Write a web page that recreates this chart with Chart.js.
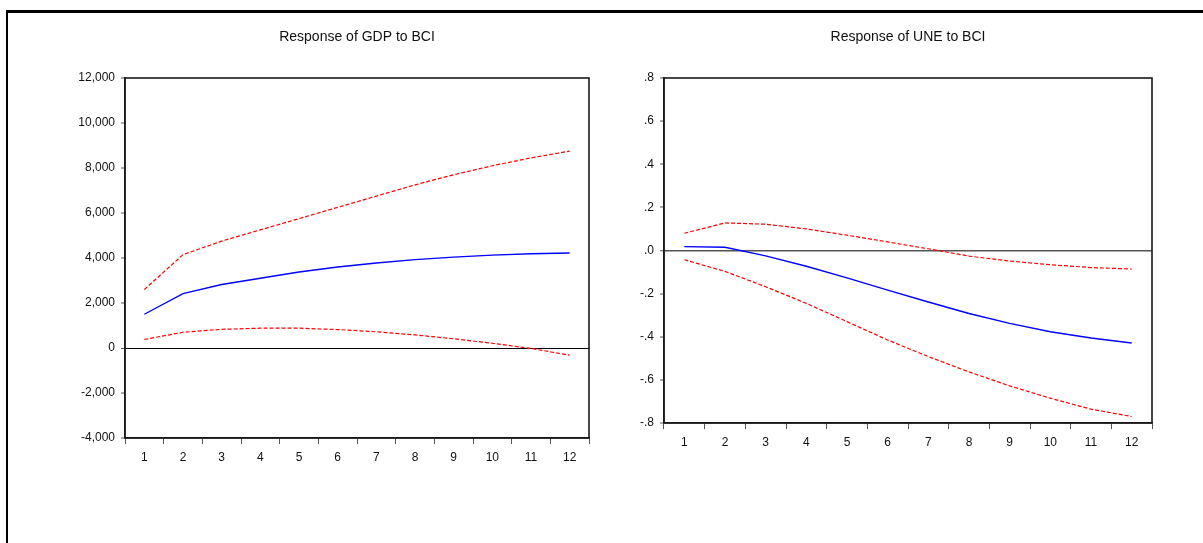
<!DOCTYPE html>
<html>
<head>
<meta charset="utf-8">
<script src="https://cdn.jsdelivr.net/npm/chart.js@4.4.1/dist/chart.umd.min.js"></script>
<style>
  html, body { margin: 0; padding: 0; background: #fff; }
  body { width: 1203px; height: 543px; position: relative; overflow: hidden; }
  #frame { position: absolute; left: 6px; top: 10px; right: 0; bottom: 0;
           border-left: 2px solid #000; border-top: 3px solid #000; }
  .box { position: absolute; top: 0; height: 543px; }
  #boxL { left: 0; width: 600px; }
  #boxR { left: 600px; width: 603px; }
</style>
</head>
<body>
<div id="frame"></div>
<div class="box" id="boxL"><canvas id="cL"></canvas></div>
<div class="box" id="boxR"><canvas id="cR"></canvas></div>
<script>
// ---- data ----
const periods = ['1','2','3','4','5','6','7','8','9','10','11','12'];

const gdpResponse = [1500, 2420, 2820, 3100, 3380, 3600, 3780, 3930, 4040, 4130, 4190, 4220];
const gdpUpper    = [2600, 4150, 4750, 5250, 5750, 6250, 6750, 7250, 7700, 8100, 8450, 8750];
const gdpLower    = [380, 700, 830, 880, 880, 820, 720, 580, 410, 210, -20, -320];

const uneResponse = [0.018, 0.015, -0.025, -0.073, -0.127, -0.184, -0.239, -0.292, -0.338, -0.377, -0.406, -0.429];
const uneUpper    = [0.080, 0.128, 0.122, 0.100, 0.071, 0.040, 0.008, -0.026, -0.049, -0.066, -0.079, -0.086];
const uneLower    = [-0.043, -0.097, -0.168, -0.245, -0.330, -0.415, -0.492, -0.563, -0.628, -0.685, -0.736, -0.770];

const gdpTicks = [-4000, -2000, 0, 2000, 4000, 6000, 8000, 10000, 12000];
const gdpTickLabels = ['-4,000', '-2,000', '0', '2,000', '4,000', '6,000', '8,000', '10,000', '12,000'];
const uneTicks = [-0.8, -0.6, -0.4, -0.2, 0, 0.2, 0.4, 0.6, 0.8];
const uneTickLabels = ['-.8', '-.6', '-.4', '-.2', '.0', '.2', '.4', '.6', '.8'];

const titleGDP = 'Response of GDP to BCI';
const titleUNE = 'Response of UNE to BCI';

// ---- styling helpers ----
const FONT = "'Liberation Sans', Arial, sans-serif";
const TXT = '#111';

const frameBox = {
  id: 'frameBox',
  afterDraw(chart) {
    const a = chart.chartArea, ctx = chart.ctx;
    ctx.save();
    ctx.strokeStyle = '#1a1a1a';
    ctx.lineWidth = 1.6;
    ctx.strokeRect(a.left, a.top, a.right - a.left, a.bottom - a.top);
    ctx.restore();
  }
};

function makeChart(canvasId, title, resp, up, lo, ticks, tickLabels, opts) {
  const ctx = document.getElementById(canvasId);
  return new Chart(ctx, {
    type: 'line',
    data: {
      labels: periods,
      datasets: [
        { data: up, borderColor: '#ff0000', borderWidth: 1.2, borderDash: [4, 2], pointRadius: 0, tension: 0, fill: false },
        { data: lo, borderColor: '#ff0000', borderWidth: 1.2, borderDash: [4, 2], pointRadius: 0, tension: 0, fill: false },
        { data: resp, borderColor: '#0000ff', borderWidth: 1.4, pointRadius: 0, tension: 0, fill: false }
      ]
    },
    options: {
      responsive: true,
      maintainAspectRatio: false,
      animation: false,
      events: [],
      layout: { padding: { left: 0, right: opts.padRight, top: 0, bottom: 0 } },
      plugins: {
        legend: { display: false },
        tooltip: { enabled: false },
        title: {
          display: true, text: title, fullSize: false, color: TXT,
          font: { family: FONT, size: 14, weight: 'normal', lineHeight: 1.2 },
          padding: { top: 28.6, bottom: 32.6 }
        }
      },
      scales: {
        x: {
          type: 'category',
          offset: true,
          grid: { offset: true, drawOnChartArea: false, tickLength: 6, tickColor: '#555', tickWidth: 1 },
          border: { display: true, color: '#1a1a1a', width: 1.6 },
          ticks: { color: TXT, font: { family: FONT, size: 12 }, padding: 6, maxRotation: 0, autoSkip: false },
          afterFit(s) { s.height = opts.xHeight; }
        },
        y: {
          min: ticks[0], max: ticks[ticks.length - 1],
          afterBuildTicks(s) { s.ticks = ticks.map(v => ({ value: v })); },
          grid: {
            drawOnChartArea: true,
            color: c => (c.tick && c.tick.value === 0) ? opts.zeroColor : 'rgba(0,0,0,0)',
            lineWidth: c => (c.tick && c.tick.value === 0) ? opts.zeroWidth : 0,
            tickColor: '#555', tickLength: 4, tickWidth: 1
          },
          border: { display: true, color: '#1a1a1a', width: 1.6 },
          ticks: {
            color: TXT, font: { family: FONT, size: 12 }, padding: 6,
            callback: (v) => { const i = ticks.indexOf(v); return i >= 0 ? tickLabels[i] : ''; }
          },
          afterFit(s) { s.width = opts.yWidth; }
        }
      }
    },
    plugins: [frameBox]
  });
}

makeChart('cL', titleGDP, gdpResponse, gdpUpper, gdpLower, gdpTicks, gdpTickLabels,
  { padRight: 11, xHeight: 105, yWidth: 125, zeroColor: '#000', zeroWidth: 1 });
makeChart('cR', titleUNE, uneResponse, uneUpper, uneLower, uneTicks, uneTickLabels,
  { padRight: 51, xHeight: 120, yWidth: 64, zeroColor: '#555', zeroWidth: 1.5 });
</script>
</body>
</html>
